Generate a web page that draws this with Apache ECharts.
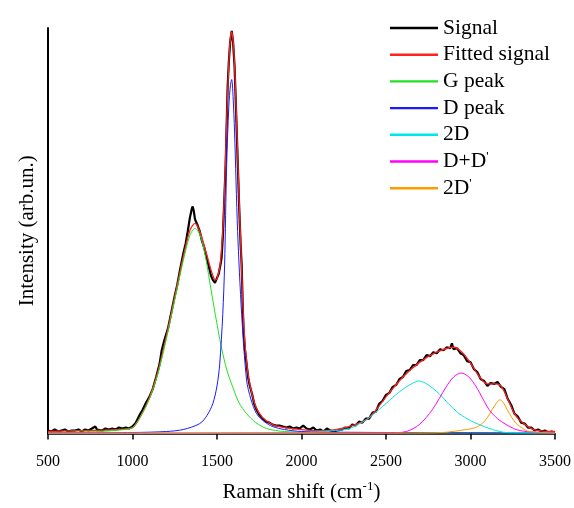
<!DOCTYPE html>
<html><head><meta charset="utf-8">
<script src="https://cdn.jsdelivr.net/npm/echarts@6/dist/echarts.min.js"></script>
<style>html,body{margin:0;padding:0;background:#fff}#c{width:574px;height:508px}</style>
</head><body><div id="c"></div>
<script>
var xTicks = [500, 1000, 1500, 2000, 2500, 3000, 3500];
var seriesNames = ['Signal', 'Fitted signal', 'G peak', 'D peak', '2D', 'D+D\'', '2D\''];

var signalX = [500,520,540,560,580,600,620,640,660,680,700,720,740,760,770,780,790,800,820,840,860,880,900,920,940,960,980,1000,1020,1040,1060,1080,1100,1120,1140,1160,1173,1190,1210,1232,1250,1265,1280,1300,1315,1327,1340,1350,1356,1362,1370,1385,1398,1410,1425,1439,1455,1465,1475,1488,1498,1510,1520,1527,1535,1543,1551,1557,1563,1570,1578,1587,1595,1604,1612,1622,1632,1640,1646,1652,1657,1665,1675,1685,1693,1700,1710,1720,1734,1750,1770,1790,1810,1829,1850,1870,1890,1910,1930,1950,1970,1988,2010,2030,2050,2070,2090,2110,2130,2150,2170,2190,2210,2240,2260,2280,2300,2320,2340,2360,2380,2400,2420,2440,2460,2480,2500,2520,2540,2560,2580,2600,2620,2640,2660,2680,2700,2720,2740,2760,2780,2800,2820,2840,2860,2880,2890,2900,2920,2940,2960,2980,3000,3020,3040,3060,3080,3100,3120,3140,3160,3180,3200,3220,3240,3260,3280,3300,3320,3340,3360,3380,3400,3420,3440,3460,3480,3500];
var signalY = [3,2,4,2,3,4,2,3,3,4,2,4,3,5,4,7,4,4,3,5,4,5,4,6,5,6,5,7,11,18,24,31,37,45,57,70,84,95,106,124,139,150,164,181,192,204,218,226,229,225,216,210,204,195,187,177,166,159,155,152,154,161,170,177,200,235,270,310,350,375,395,406,395,370,330,277,225,190,170,130,104,85,70,56,49,47,38,30,24,19,15,12,11,9,8,8,7,6,7,5,6,5,8,5,4,6,3,4,2,5,3,2,3,4,6,5,9,8,12,11,15,15,21,22,30,33,39,41,47,49,55,57,63,64,69,69,74,74,79,78,82,81,85,84,87,86,91,85,86,81,79,73,72,65,62,55,53,48,51,50,52,47,45,35,29,20,17,11,10,6,6,3,4,2,3,1,2,1];

var fitX = [500,700,900,1000,1050,1100,1150,1200,1250,1300,1340,1370,1400,1440,1470,1490,1500,1520,1540,1560,1575,1587,1600,1615,1630,1645,1660,1680,1700,1730,1770,1830,1900,2000,2100,2200,2300,2400,2500,2600,2700,2800,2900,2950,3000,3050,3100,3150,3180,3220,3260,3300,3350,3400,3500];
var fitY = [2,3,4,6,18,36,62,98,138,178,205,212,203,180,162,155,156,172,225,330,390,405,385,320,240,170,105,65,45,27,16,9,6,4,3,4,8,16,37,57,72,82,87,82,71,58,50,50,48,35,20,12,6,3,2];

var gX = [500,800,950,1000,1050,1100,1150,1200,1250,1300,1340,1370,1400,1430,1456,1490,1526,1560,1593,1630,1675,1730,1793,1900,2100,3500];
var gY = [1,2,4,6,18,35,60,95,135,174,200,207,200,180,154,120,87,63,47,31,20,11,5,2,1,0.5];

var dX = [500,1000,1200,1300,1398,1440,1475,1500,1516,1534,1545,1557,1570,1580,1587,1595,1604,1622,1646,1675,1700,1734,1780,1829,1900,2000,2500,3500];
var dY = [0.5,1,2,4,10,18,30,48,70,120,170,270,330,352,357,340,304,204,120,54,35,20,12,7,4,2,1,0.5];

var d2X = [500,2000,2200,2283,2384,2478,2579,2650,2697,2750,2815,2870,2933,3000,3051,3130,3211,3500];
var d2Y = [0.3,1,3,5,14,27,42,50,53,49,40,30,20,13,9,4,1,0.5];

var ddX = [500,2500,2620,2697,2774,2856,2900,2945,2990,3034,3070,3110,3160,3211,3270,3329,3500];
var ddY = [0.3,0.5,2,9,24,47,57,61,57,47,36,24,15,9,4,2,0.5];

var d2pX = [500,2600,2833,2974,3030,3069,3100,3128,3155,3175,3195,3217,3245,3270,3310,3347,3500];
var d2pY = [0.3,0.5,1,4,6,10,16,24,31,34,31,24,16,10,5,2,0.5];

var colors = ['#000000', '#ff2020', '#22e022', '#1a1aff', '#00e5e5', '#ff00ff', '#ff9900'];

function pairs(xs, ys) { return xs.map(function (x, i) { return [x, ys[i]]; }); }

var serif = 'Liberation Serif';
var chart = echarts.init(document.getElementById('c'));
var dataSets = [pairs(signalX, signalY), pairs(fitX, fitY), pairs(gX, gY), pairs(dX, dY), pairs(d2X, d2Y), pairs(ddX, ddY), pairs(d2pX, d2pY)];
var widths = [2.2, 1.3, 1, 1, 1, 1, 1];
chart.setOption({
  animation: false,
  backgroundColor: '#ffffff',
  grid: { left: 48, right: 18, top: 28, bottom: 71 },
  legend: {
    orient: 'vertical', left: 390, top: 17, padding: 0,
    icon: 'path://M0,0H20V1H0Z',
    itemWidth: 48, itemHeight: 14, itemGap: 4.7, itemTextGap: 5,
    data: seriesNames,
    formatter: function (n) {
      if (n === 'D+D\'') return 'D+D{sup|\'}';
      if (n === '2D\'') return '2D{sup|\'}';
      return n;
    },
    textStyle: { fontFamily: serif, fontSize: 21.5, lineHeight: 22, color: '#000',
      rich: { sup: { fontFamily: serif, fontSize: 13, lineHeight: 22, color: '#000', verticalAlign: 'top' } } }
  },
  xAxis: {
    type: 'value', min: 500, max: 3500, interval: 500,
    name: 'Raman shift (cm{sup|-1})', nameLocation: 'middle', nameGap: 47,
    nameTextStyle: { fontFamily: serif, fontSize: 21, color: '#000',
      rich: { sup: { fontFamily: serif, fontSize: 13, color: '#000', padding: [0, 0, 11, 0] } } },
    axisLine: { lineStyle: { color: '#000', width: 1.5 } },
    axisTick: { show: true, inside: false, length: 6, lineStyle: { color: '#000', width: 1.5 } },
    axisLabel: { fontFamily: serif, fontSize: 16, color: '#000', margin: 20,
      formatter: function (v) { return xTicks.indexOf(v) >= 0 ? String(v) : ''; } },
    splitLine: { show: false }
  },
  yAxis: {
    type: 'value', min: 0, max: 409,
    name: 'Intensity (arb.un.)', nameLocation: 'middle', nameGap: 10,
    nameTextStyle: { fontFamily: serif, fontSize: 21, color: '#000' },
    axisLine: { show: true, lineStyle: { color: '#000', width: 2 } },
    axisTick: { show: false }, axisLabel: { show: false }, splitLine: { show: false }
  },
  series: seriesNames.map(function (n, i) {
    return {
      name: n, type: 'line', symbol: 'none', smooth: i >= 1 ? 0.3 : false,
      data: dataSets[i], z: 2 + i,
      lineStyle: { color: colors[i], width: widths[i] },
      itemStyle: { color: colors[i] }
    };
  })
});
</script></body></html>
